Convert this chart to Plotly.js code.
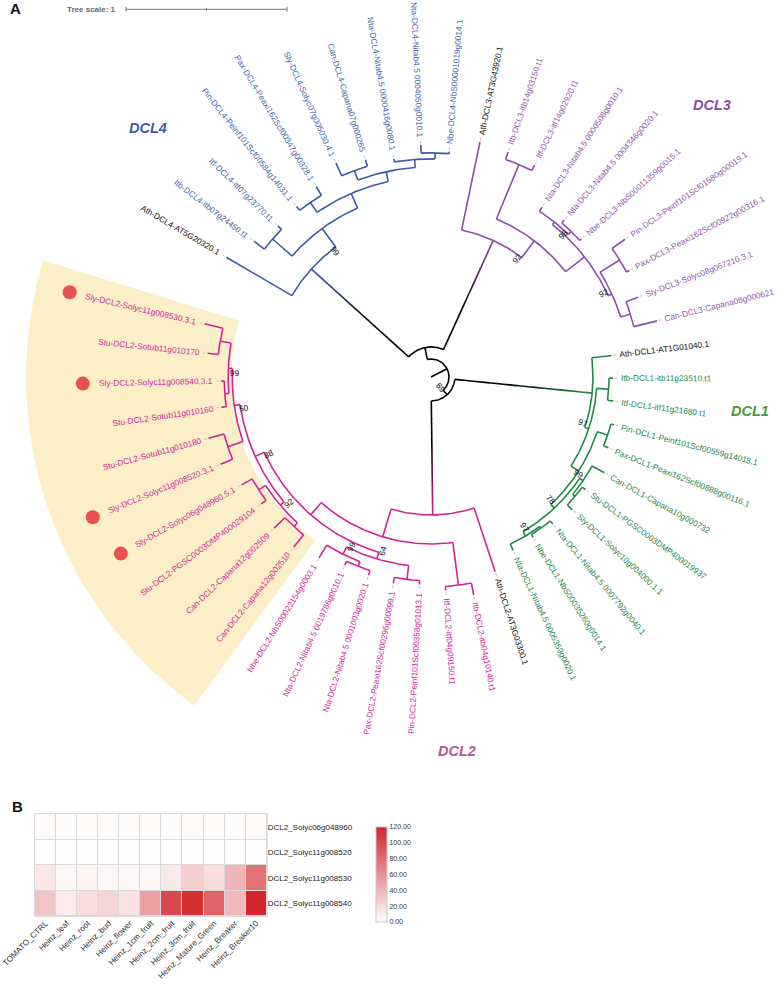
<!DOCTYPE html>
<html><head><meta charset="utf-8">
<script src="https://cdn.plot.ly/plotly-3.0.1.min.js"></script>
<style>html,body{margin:0;padding:0;background:#fff}#chart{width:778px;height:984px}</style>
</head><body><div id="chart"></div>
<script>
// ---------------- DATA ----------------
// Phylogenetic tree (branch lengths in tree units, internal labels = bootstrap support)
const TREE_DCL2 = "(((((((" +
  "'Sly-DCL2-Solyc11g008530.3.1':0.118,'Stu-DCL2-Sotub11g010170':0.068):0.068," +
  "('Sly-DCL2-Solyc11g008540.3.1':0.019,'Stu-DCL2-Sotub11g010160':0.031):0.025)99:0.025," +
  "('Stu-DCL2-Sotub11g010180':0.099,'Sly-DCL2-Solyc11g008520.3.1':0.081):0.099)50:0.037," +
  "(('Sly-DCL2-Solyc06g048960.5.1':0.075,'Stu-DCL2-PGSC0003DMP400029104':0.037):0.050," +
  "('Can-DCL2-Capana12g002509':0.093,'Can-DCL2-Capana12g002510':0.099):0.031)92:0.031)88:0.062," +
  "(('Nbe-DCL2-NbS00022154g0003.1':0.093,('Nta-DCL2-Nitab4.5 0019786g0010.1':0.025,'Nta-DCL2-Nitab4.5 0001003g0020.1':0.031):0.031)99:0.050," +
  "('Pax-DCL2-Peaxi162Scf00296g00099.1':0.037,'Pin-DCL2-Peinf101Scf00358g01013.1':0.025):0.087)64:0.043):0.099," +
  "('Itf-DCL2-itf04g09150.t1':0.025,'Itb-DCL2-itb04g10140.t1':0.075):0.267):0.180," +
  "'Ath-DCL2-AT3G03300.1':0.416):0.708";
const TREE_DCL1 = "(((((" +
  "'Nta-DCL1-Nitab4.5 0005359g0020.1':0.043,('Nbe-DCL1-NbS00035260g0014.1':0.019,'Nta-DCL1-Nitab4.5 0007792g0040.1':0.025):0.012)97:0.031," +
  "(('Sly-DCL1-Solyc10g004000.1.1':0.043,'Stu-DCL1-PGSC0003DMP400019937':0.025):0.019,'Can-DCL1-Capana10g000732':0.087)99:0.025)78:0.031," +
  "('Pax-DCL1-Peaxi162Scf00888g00116.1':0.031,'Pin-DCL1-Peinf101Scf00559g14018.1':0.019):0.068):0.056," +
  "('Itf-DCL1-itf11g21680.t1':0.037,'Itb-DCL1-itb11g23510.t1':0.025):0.075)97:0.025," +
  "'Ath-DCL1-AT1G01040.1':0.124):0.857";
const TREE_DCL3 = "(((((" +
  "'Can-DCL3-Capana08g000621':0.149,'Sly-DCL3-Solyc08g067210.3.1':0.081):0.062," +
  "('Pax-DCL3-Peaxi162Scf00922g00316.1':0.019,'Pin-DCL3-Peinf101Scf01580g00019.1':0.099):0.143)92:0.025," +
  "(('Nbe-DCL3-NbS00011359g0015.1':0.012,'Nta-DCL3-Nitab4.5 0004346g0020.1':0.025)98:0.025,'Nta-DCL3-Nitab4.5 0000508g0010.1':0.031):0.019):0.149," +
  "('Itf-DCL3-itf14g02920.t1':0.037,'Itb-DCL3-itb14g03150.t1':0.050):0.366)92:0.130," +
  "'Ath-DCL3-AT3G43920.1':0.559):0.745";
const TREE_DCL4 = "((((((" +
  "'Nbe-DCL4-NbS00001019g0014.1':0.012,'Nta-DCL4-Nitab4.5 0004050g0010.1':0.050):0.037,'Nta-DCL4-Nitab4.5 0000416g0080.1':0.019):0.050," +
  "('Can-DCL4-Capana07g000265':0.043,'Sly-DCL4-Solyc07g005030.4.1':0.087):0.062):0.062," +
  "('Pax-DCL4-Peaxi162Scf00347g00328.1':0.062,'Pin-DCL4-Peinf101Scf00584g14031.1':0.031):0.075):0.099," +
  "('Itf-DCL4-itf07g23770.t1':0.031,'Itb-DCL4-itb07g24450.t1':0.081):0.161)99:0.143," +
  "'Ath-DCL4-AT5G20320.1':0.472):0.814";
const TREE_NEWICK = "((" + TREE_DCL2 + "," + TREE_DCL1 + ")69:0.037,(" + TREE_DCL3 + "," + TREE_DCL4 + "):0.075):0.112;";

const CLADE_LINE_COLORS  = {DCL1:'#1f8a48', DCL2:'#d4239a', DCL3:'#8d4fa9', DCL4:'#3f5ba6'};
const CLADE_LABEL_COLORS = {DCL1:'#23894d', DCL2:'#d2279c', DCL3:'#9258ae', DCL4:'#4863a9'};
const CLADE_TITLES = ['DCL4','DCL3','DCL1','DCL2'];
const CLADE_TITLE_COLORS = ['#3e5da8','#8a4ea6','#4c9a3a','#b8559d'];
const HIGHLIGHT_RANGE = ['Sly-DCL2-Solyc11g008530.3.1','Can-DCL2-Capana12g002510'];
const MARKED_LEAVES = ['Sly-DCL2-Solyc11g008530.3.1','Sly-DCL2-Solyc11g008540.3.1',
                       'Sly-DCL2-Solyc11g008520.3.1','Sly-DCL2-Solyc06g048960.5.1'];
const TREE_SCALE = 1;

// Heatmap (panel B)
const SAMPLES = ['TOMATO_CTRL','Heinz_leaf','Heinz_root','Heinz_bud','Heinz_flower','Heinz_1cm_fruit',
                 'Heinz_2cm_fruit','Heinz_3cm_fruit','Heinz_Mature_Green','Heinz_Breaker','Heinz_Breaker10'];
const GENES = ['DCL2_Solyc06g048960','DCL2_Solyc11g008520','DCL2_Solyc11g008530','DCL2_Solyc11g008540'];
const EXPR_06g048960 = [3, 2, 2, 2, 2, 2, 2, 3, 2, 2, 3];
const EXPR_11g008520 = [0.5, 0.3, 0.3, 0.3, 0.3, 0.3, 0.5, 0.5, 0.5, 0.5, 1];
const EXPR_11g008530 = [13, 4, 6, 5, 4, 5, 12, 27, 18, 41, 77];
const EXPR_11g008540 = [32, 11, 18, 24, 16, 52, 100, 113, 84, 38, 118];
const COLORBAR_TICKS = [0, 20, 40, 60, 80, 100, 120];

// ---------------- LAYOUT CONSTANTS ----------------
const W = 778, H = 984, CX = 431, CY = 377, S = 161;     // px per tree unit
const FONT = '"Liberation Sans", Arial, sans-serif';
const ARC_START = 166.8, ARC_SPAN = 350;
const LEAF_GAP = 8, LEAF_FS = 8.3, BOOT_FS = 8.3;

// ---------------- TREE PARSING / LAYOUT ----------------
function parseNewick(str){
  let i = 0;
  function readNode(){
    const n = {children:[], name:'', len:0};
    if (str[i] === '('){
      i++;
      n.children.push(readNode());
      while (str[i] === ','){ i++; n.children.push(readNode()); }
      i++;
    }
    if (str[i] === "'"){ const j = str.indexOf("'", i+1); n.name = str.slice(i+1, j); i = j+1; }
    else { let j = i; while (j < str.length && !':,();'.includes(str[j])) j++; n.name = str.slice(i, j); i = j; }
    if (str[i] === ':'){ let j = i+1; while (j < str.length && !',();'.includes(str[j])) j++; n.len = parseFloat(str.slice(i+1, j)); i = j; }
    return n;
  }
  return readNode();
}
const root = parseNewick(TREE_NEWICK);
const leaves = [];
(function collect(n){ if (!n.children.length) leaves.push(n); else n.children.forEach(collect); })(root);
const NLEAF = leaves.length, STEP = ARC_SPAN / NLEAF;
leaves.forEach((l, k) => { l.ang = ARC_START + k * STEP; l.idx = k; });
(function place(n, pr, parent){
  n.r = pr + n.len; n.parent = parent;
  if (n.children.length){
    n.children.forEach(c => place(c, n.r, n));
    n.ang = (n.children[0].ang + n.children[n.children.length-1].ang) / 2;
  }
})(root, 0, null);
(function clade(n){
  if (!n.children.length){ const m = n.name.match(/DCL\d/); n.clade = m ? m[0] : null; return n.clade; }
  const cs = n.children.map(clade);
  n.clade = cs.every(c => c && c === cs[0]) ? cs[0] : null;
  return n.clade;
})(root);

function P(rUnits, a){ const t = a * Math.PI / 180; return [rUnits * Math.cos(t), rUnits * Math.sin(t)]; }
function hexToRgb(h){ return [1,3,5].map(i => parseInt(h.slice(i, i+2), 16)); }
function mix(c1, c2, t){ const a = hexToRgb(c1), b = hexToRgb(c2); return 'rgb(' + a.map((v,i) => Math.round(v + (b[i]-v)*t)).join(',') + ')'; }

const segByColor = new Map();
function addSeg(color, pts){
  if (!segByColor.has(color)) segByColor.set(color, {x:[], y:[]});
  const s = segByColor.get(color);
  pts.forEach(p => { s.x.push(p[0]); s.y.push(p[1]); });
  s.x.push(null); s.y.push(null);
}
const bootNodes = [];
(function draw(n){
  const pr = n.parent ? n.parent.r : 0;
  const col = n.clade ? CLADE_LINE_COLORS[n.clade] : '#000000';
  const gradient = n.clade && !(n.parent && n.parent.clade);
  if (gradient){
    const NG = 20;
    for (let k = 0; k < NG; k++){
      const r0 = pr + (n.r - pr) * k / NG, r1 = pr + (n.r - pr) * (k+1) / NG;
      const t = Math.max(0, Math.min(1, ((k+0.5)/NG - 0.35) / 0.65));
      addSeg(mix('#000000', col, t), [P(r0, n.ang), P(r1 + 0.002, n.ang)]);
    }
  } else {
    addSeg(col, [P(pr, n.ang), P(n.r, n.ang)]);
  }
  if (n.children.length){
    const a0 = n.children[0].ang, a1 = n.children[n.children.length-1].ang;
    const pts = []; const nSt = Math.max(2, Math.ceil(Math.abs(a1 - a0) / 0.5));
    for (let k = 0; k <= nSt; k++) pts.push(P(n.r, a0 + (a1 - a0) * k / nSt));
    addSeg(col, pts);
    if (/^\d+$/.test(n.name)) bootNodes.push(n);
    n.children.forEach(draw);
  }
})(root);

// text measurement
const cv = document.createElement('canvas').getContext('2d');
function textW(t, size, bold){ cv.font = (bold ? 'bold ' : '') + size + 'px "Liberation Sans"'; return cv.measureText(t).width; }
function rot(a){ a = ((a % 360) + 360) % 360; let t = (a < 90 || a > 270) ? -a : 180 - a; if (t > 180) t -= 360; if (t <= -180) t += 360; return t; }

const traces = [];
// highlight wedge
(function(){
  const i0 = leaves.findIndex(l => l.name === HIGHLIGHT_RANGE[0]);
  const i1 = leaves.findIndex(l => l.name === HIGHLIGHT_RANGE[1]);
  const a0 = leaves[i0].ang - STEP/2, a1 = leaves[i1].ang + STEP/2;
  const rin = 200 / S, rout = 405 / S, xs = [], ys = [];
  for (let a = a0; a <= a1 + 1e-9; a += 0.5){ const p = P(rout, a); xs.push(p[0]); ys.push(p[1]); }
  for (let a = a1; a >= a0 - 1e-9; a -= 0.5){ const p = P(rin, a); xs.push(p[0]); ys.push(p[1]); }
  traces.push({type:'scatter', mode:'lines', x:xs, y:ys, fill:'toself', fillcolor:'#fcefc8',
               line:{width:0, color:'rgba(0,0,0,0)'}, hoverinfo:'skip', xaxis:'x', yaxis:'y'});
})();

// dotted connectors
const dx = [], dy = [];
leaves.forEach(l => { const a = P(l.r + 1.5/S, l.ang), b = P(l.r + (LEAF_GAP - 1)/S, l.ang); dx.push(a[0], b[0], null); dy.push(a[1], b[1], null); });
traces.push({type:'scatter', mode:'lines', x:dx, y:dy, line:{color:'#b5b5b5', width:0.8, dash:'dot'}, hoverinfo:'skip', xaxis:'x', yaxis:'y'});

segByColor.forEach((s, color) => {
  traces.push({type:'scatter', mode:'lines', x:s.x, y:s.y, line:{color:color, width:1.6}, hoverinfo:'skip', xaxis:'x', yaxis:'y'});
});

const annotations = [];
const dotX = [], dotY = [];
leaves.forEach(l => {
  const w = textW(l.name, LEAF_FS, false);
  const rc = (l.r * S + LEAF_GAP + w / 2) / S;
  const p = P(rc, l.ang);
  const isAth = l.name.startsWith('Ath');
  annotations.push({x:p[0], y:p[1], xref:'x', yref:'y', text:l.name, showarrow:false,
    textangle:rot(l.ang), xanchor:'center', yanchor:'middle', borderpad:0,
    font:{family:FONT, size:LEAF_FS, color: isAth ? '#111111' : CLADE_LABEL_COLORS[l.clade]}});
  if (MARKED_LEAVES.includes(l.name)){
    const q = P((l.r * S + LEAF_GAP + w + 17) / S, l.ang); dotX.push(q[0]); dotY.push(q[1]);
  }
});
traces.push({type:'scatter', mode:'markers', x:dotX, y:dotY, marker:{size:14, color:'#e8524e'}, hoverinfo:'skip', xaxis:'x', yaxis:'y'});

bootNodes.forEach(n => {
  const pr = n.parent ? n.parent.r : 0;
  const p = P((pr * S - 3) / S, n.ang + 1.2);
  annotations.push({x:p[0], y:p[1], xref:'x', yref:'y', text:n.name, showarrow:false,
    textangle:rot(n.ang), xanchor:'center', yanchor:'middle', borderpad:0,
    font:{family:FONT, size:BOOT_FS, color:'#111111'}});
});

// clade titles
const TITLE_POS = [[148,128],[712,105],[750,411],[457,751]];
CLADE_TITLES.forEach((t, k) => {
  annotations.push({x:TITLE_POS[k][0]/W, y:1 - TITLE_POS[k][1]/H, xref:'paper', yref:'paper', showarrow:false,
    text:'<b><i>' + t + '</i></b>', xanchor:'center', yanchor:'middle', font:{family:FONT, size:14.5, color:CLADE_TITLE_COLORS[k]}});
});
annotations.push({x:16/W, y:1 - 8/H, xref:'paper', yref:'paper', showarrow:false, text:'<b>A</b>', xanchor:'center', yanchor:'middle', font:{family:FONT, size:15, color:'#111'}});
annotations.push({x:17/W, y:1 - 806/H, xref:'paper', yref:'paper', showarrow:false, text:'<b>B</b>', xanchor:'center', yanchor:'middle', font:{family:FONT, size:15, color:'#111'}});
annotations.push({x:118/W, y:1 - 9.5/H, xref:'paper', yref:'paper', showarrow:false, text:'<b>Tree scale: 1</b>', xanchor:'right', yanchor:'middle', font:{family:FONT, size:8, color:'#666'}});

// scale bar (in tree units)
const sbX0 = (126 - CX) / S, sbY = (CY - 9.3) / S, tk = 2.5 / S;
const shapes = [
  {type:'line', xref:'x', yref:'y', x0:sbX0, x1:sbX0 + TREE_SCALE, y0:sbY, y1:sbY, line:{color:'#777', width:1}},
  {type:'line', xref:'x', yref:'y', x0:sbX0, x1:sbX0, y0:sbY - tk, y1:sbY + tk, line:{color:'#777', width:1}},
  {type:'line', xref:'x', yref:'y', x0:sbX0 + TREE_SCALE/2, x1:sbX0 + TREE_SCALE/2, y0:sbY - tk*0.6, y1:sbY + tk*0.6, line:{color:'#777', width:1}},
  {type:'line', xref:'x', yref:'y', x0:sbX0 + TREE_SCALE, x1:sbX0 + TREE_SCALE, y0:sbY - tk, y1:sbY + tk, line:{color:'#777', width:1}},
  {type:'rect', xref:'paper', yref:'paper', x0:34/W, x1:267.7/W, y0:1 - 917/H, y1:1 - 813/H, fillcolor:'#dadada', line:{width:0}, layer:'below'}
];

// heatmap
traces.push({type:'heatmap', x:SAMPLES, y:GENES, z:[EXPR_06g048960, EXPR_11g008520, EXPR_11g008530, EXPR_11g008540],
  xaxis:'x2', yaxis:'y2', zmin:0, zmax:120, colorscale:[[0,'#ffffff'],[1,'#d1232a']], xgap:1, ygap:1, hoverinfo:'skip',
  colorbar:{x:376/W, xanchor:'left', y:1 - 874.5/H, yanchor:'middle', len:95/H, lenmode:'fraction',
    thickness:11, thicknessmode:'pixels', outlinewidth:1, outlinecolor:'#c8c8c8',
    tickvals:COLORBAR_TICKS, ticktext:COLORBAR_TICKS.map(v => v.toFixed(2)), ticks:'',
    tickfont:{family:FONT, size:7, color:'#333'}, xpad:0, ypad:0}});

const layout = {
  width:W, height:H, margin:{l:0, r:0, t:0, b:0}, paper_bgcolor:'#ffffff', plot_bgcolor:'rgba(0,0,0,0)',
  showlegend:false, hovermode:false, font:{family:FONT},
  xaxis:{domain:[0,1], range:[-CX/S, (W-CX)/S], visible:false, fixedrange:true},
  yaxis:{domain:[0,1], range:[-(H-CY)/S, CY/S], visible:false, fixedrange:true},
  xaxis2:{domain:[35/W, 266.7/W], anchor:'y2', tickangle:-45, ticks:'', showgrid:false, zeroline:false, showline:false,
    tickfont:{family:FONT, size:8.2, color:'#333'}, fixedrange:true},
  yaxis2:{domain:[1 - 916/H, 1 - 814/H], anchor:'x2', autorange:'reversed', side:'right', ticks:'', showgrid:false,
    zeroline:false, showline:false, tickfont:{family:FONT, size:8, color:'#222'}, fixedrange:true},
  annotations:annotations, shapes:shapes
};
Plotly.newPlot('chart', traces, layout, {staticPlot:true, displayModeBar:false});
</script></body></html>
